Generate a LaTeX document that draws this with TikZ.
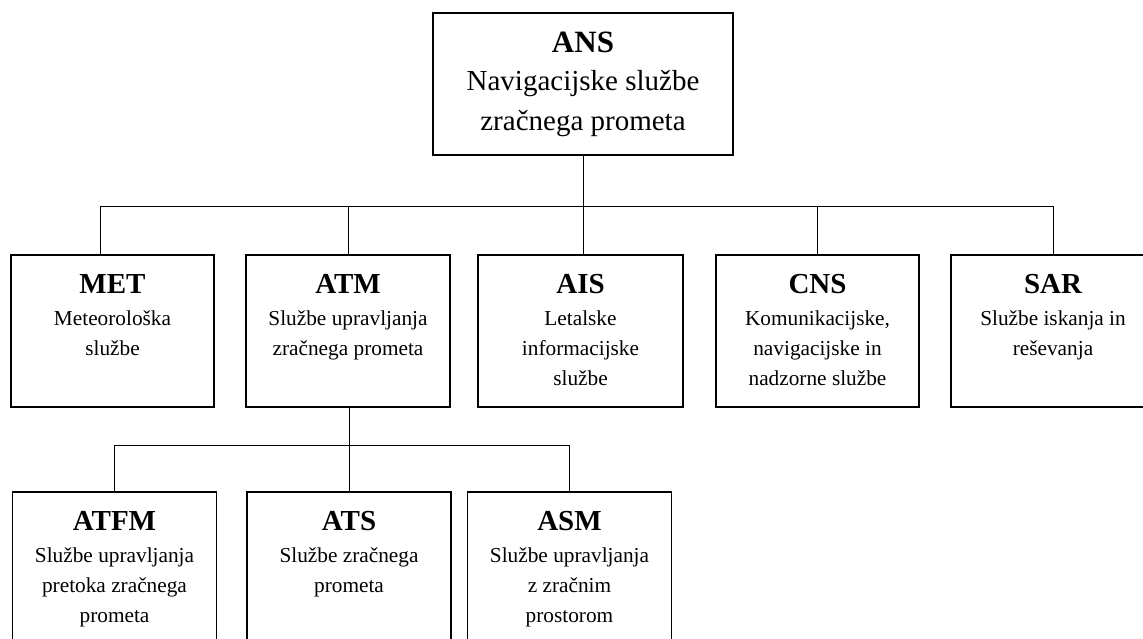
\documentclass[tikz,border=0pt]{standalone}
\usepackage{fontspec}
\setmainfont{Liberation Serif}
\begin{document}
\begin{tikzpicture}[x=1pt,y=-1pt,
  box/.style={draw, line width=1.8pt, rectangle, inner sep=0pt},
  wire/.style={line width=1pt},
  toptitle/.style={anchor=base, inner sep=0pt, font=\fontsize{31}{36}\selectfont\bfseries},
  topbody/.style={anchor=base, inner sep=0pt, font=\fontsize{29}{36}\selectfont},
  subtitle/.style={anchor=base, inner sep=0pt, font=\fontsize{29}{34}\selectfont\bfseries},
  subbody/.style={anchor=base, inner sep=0pt, font=\fontsize{21.3}{26}\selectfont}]
\clip (0,0) rectangle (1143,639);

% title and description lines placed below the top edge of a box
\newcommand{\boxtext}[3]{%
  \node[subtitle] (#1-t) at ([yshift=-39pt]#1.north) {#2};
  \foreach \ln [count=\k] in {#3} {
    \node[subbody] (#1-\k) at ([yshift={-41pt-30pt*\k}]#1.north) {\ln};
  }%
}

% top level
\node[box, minimum width=300pt, minimum height=142pt] (ans) at (583,84) {};
\node[toptitle] (ans-t) at ([yshift=-40pt]ans.north) {ANS};
\node[topbody] (ans-1) at ([yshift=-78pt]ans.north) {Navigacijske službe};
\node[topbody] (ans-2) at ([yshift=-118pt]ans.north) {zračnega prometa};

% second level
\node[box, minimum width=203pt, minimum height=152pt] (met) at (112.5,331) {};
\node[box, minimum width=204pt, minimum height=152pt] (atm) at (348,331) {};
\node[box, minimum width=205pt, minimum height=152pt] (ais) at (580.5,331) {};
\node[box, minimum width=203pt, minimum height=152pt] (cns) at (817.5,331) {};
\node[box, minimum width=204pt, minimum height=152pt] (sar) at (1053,331) {};

\boxtext{met}{MET}{Meteorološka,službe}
\boxtext{atm}{ATM}{Službe upravljanja,zračnega prometa}
\boxtext{ais}{AIS}{Letalske,informacijske,službe}
\boxtext{cns}{CNS}{{Komunikacijske,},navigacijske in,nadzorne službe}
\boxtext{sar}{SAR}{Službe iskanja in,reševanja}

% third level
\node[box, minimum width=204pt, minimum height=170pt] (atfm) at (114.5,577) {};
\node[box, minimum width=204pt, minimum height=170pt] (ats) at (349,577) {};
\node[box, minimum width=204pt, minimum height=170pt] (asm) at (569.5,577) {};

\boxtext{atfm}{ATFM}{Službe upravljanja,pretoka zračnega,prometa}
\boxtext{ats}{ATS}{Službe zračnega,prometa}
\boxtext{asm}{ASM}{Službe upravljanja,z zračnim,prostorom}

% connectors
\coordinate (bus1) at (0,207);
\coordinate (bus2) at (0,445);
\coordinate (metIn) at (100,255);
\draw[wire] (ans.south) -- (ans.south |- ais.north);
\draw[wire] (metIn) -- (metIn |- bus1) -- (sar.north |- bus1) -- (sar.north);
\draw[wire] (atm.north) -- (atm.north |- bus1);
\draw[wire] (cns.north) -- (cns.north |- bus1);
\draw[wire] (atm.south -| ats.north) -- (ats.north);
\draw[wire] (atfm.north) -- (atfm.north |- bus2) -- (asm.north |- bus2) -- (asm.north);
\end{tikzpicture}
\end{document}
